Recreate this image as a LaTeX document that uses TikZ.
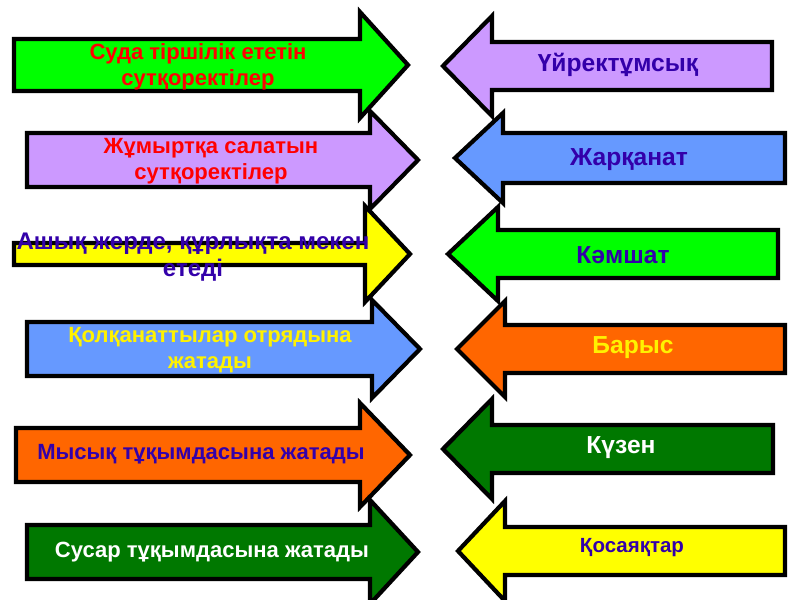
\documentclass[tikz,border=0pt]{standalone}
\usepackage{fontspec}
\setmainfont{Liberation Sans}
\definecolor{arrgreen}{RGB}{0,255,0}
\definecolor{arrlilac}{RGB}{204,153,255}
\definecolor{arryellow}{RGB}{255,255,0}
\definecolor{arrblue}{RGB}{102,153,255}
\definecolor{arrorange}{RGB}{255,102,0}
\definecolor{arrdark}{RGB}{0,120,0}
\definecolor{ink}{RGB}{51,0,170}
\begin{document}
\begin{tikzpicture}[x=0.03cm, y=-0.03cm,
  arrow/.style={draw=black,line width=3.6pt,line join=miter},
  lefttxt/.style={font=\fontsize{18.8}{22.5}\selectfont\bfseries,align=center,inner sep=0pt},
  righttxt/.style={font=\fontsize{21}{25}\selectfont\bfseries,align=center,inner sep=0pt}]
\useasboundingbox (0,0) rectangle (800,600);
% arrows: shaft end / head base / tip / centre y / half shaft / half head / fill
\foreach \xa/\xb/\xt/\cy/\sh/\hh/\col in {
    14/360/408/65/26/53/arrgreen, 27/370/418/160/27/49/arrlilac,
    14/365/410/254/11/48/arryellow, 27/372/420/349/27/49/arrblue,
    16/360/410/455/27/52/arrorange, 27/370/418/552/27/52/arrdark,
    772/492/443/66/24/50/arrlilac, 785/503/455/158/25/45/arrblue,
    778/498/448/254/24/47/arrgreen, 785/505/457/349/24/48/arrorange,
    773/492/443/449/24/50/arrdark, 785/505/458/551/24/50/arryellow}
  \draw[arrow,fill=\col] (\xa,\cy-\sh) -- (\xb,\cy-\sh) -- (\xb,\cy-\hh) -- (\xt,\cy)
    -- (\xb,\cy+\hh) -- (\xb,\cy+\sh) -- (\xa,\cy+\sh) -- cycle;
% left column
\node[lefttxt,text=red] (water) at (198,67) {Суда тіршілік ететін\\сутқоректілер};
\node[lefttxt,text=red] (eggs) at (211,161) {Жұмыртқа салатын\\сутқоректілер};
\node[lefttxt,text=ink,font=\fontsize{20.5}{23}\selectfont\bfseries] (open) at (193,257) {Ашық жерде, құрлықта мекен\\етеді};
\node[lefttxt,text=yellow] (bats) at (210,350) {Қолқанаттылар отрядына\\жатады};
\node[lefttxt,text=ink] (cats) at (201,454) {Мысық тұқымдасына жатады};
\node[lefttxt,text=white] (mustel) at (212,552) {Сусар тұқымдасына жатады};
% right column
\node[righttxt,text=ink] (platypus) at (618,65) {Үйректұмсық};
\node[righttxt,text=ink] (bat) at (629,160) {Жарқанат};
\node[righttxt,text=ink] (sable) at (623,255) {Кәмшат};
\node[righttxt,text=yellow] (leopard) at (633,348) {Барыс};
\node[righttxt,text=white] (mink) at (621,448) {Күзен};
\node[righttxt,text=ink,font=\fontsize{17.5}{21}\selectfont\bfseries] (jerboa) at (632,548) {Қосаяқтар};
\end{tikzpicture}
\end{document}
